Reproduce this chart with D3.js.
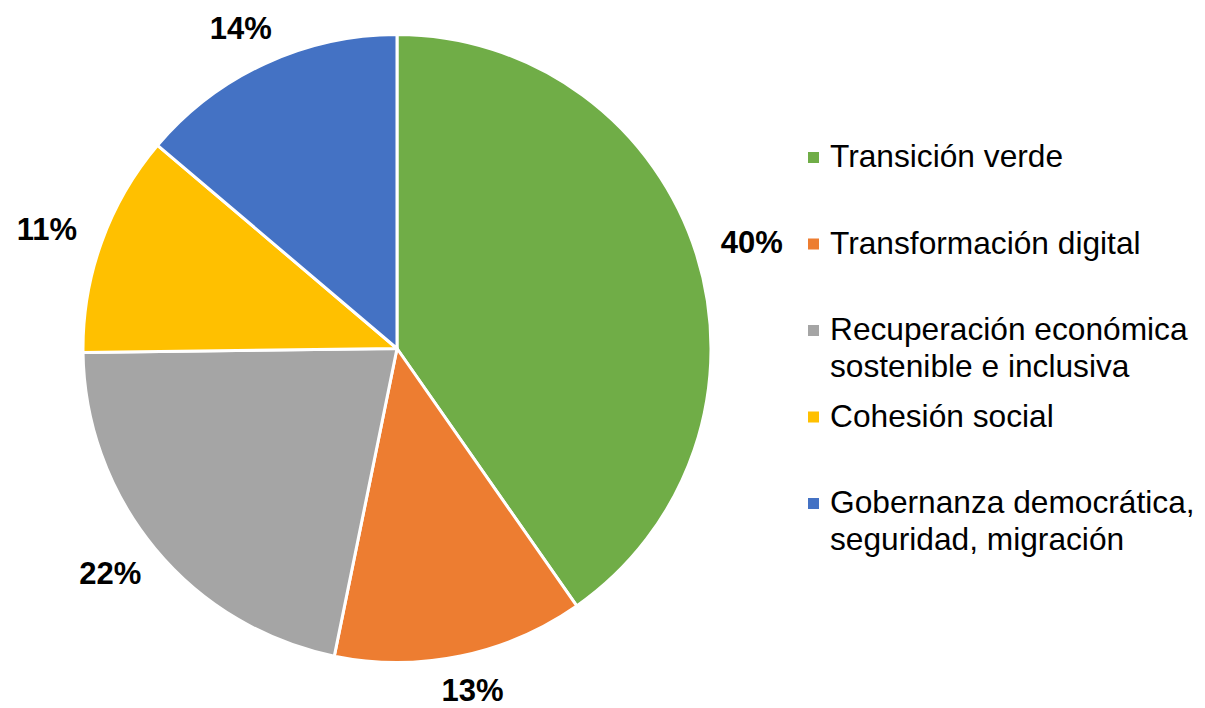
<!DOCTYPE html>
<html>
<head>
<meta charset="utf-8">
<script src="https://cdn.jsdelivr.net/npm/d3@7"></script>
<style>
  body { margin: 0; background: #fff; }
  svg { display: block; font-family: "Liberation Sans", Arial, sans-serif; }
</style>
</head>
<body>
<svg id="chart"></svg>
<script>
// Data
const categories = [
  ["Transición verde"],
  ["Transformación digital"],
  ["Recuperación económica", "sostenible e inclusiva"],
  ["Cohesión social"],
  ["Gobernanza democrática,", "seguridad, migración"]
];
const values = [40.3, 12.9, 21.6, 11.4, 13.8];
const labels = ["40%", "13%", "22%", "11%", "14%"];
const colors = ["#70AD47", "#ED7D31", "#A5A5A5", "#FFC000", "#4472C4"];

// Dimensions
const width = 1205;
const height = 708;
const cx = 397;
const cy = 348.5;
const radius = 314;

const svg = d3
  .select("#chart")
  .attr("width", width)
  .attr("height", height);

const dataset = values.map((v, i) => ({
  value: v,
  label: labels[i],
  name: categories[i],
  color: colors[i]
}));

const pie = d3.pie().sort(null).value((d) => d.value);
const arc = d3.arc().innerRadius(0).outerRadius(radius);

const g = svg.append("g").attr("transform", `translate(${cx}, ${cy})`);

// Slices
g.selectAll(".slice")
  .data(pie(dataset))
  .enter()
  .append("path")
  .attr("class", "slice")
  .attr("d", arc)
  .attr("fill", (d) => d.data.color)
  .attr("stroke", "#fff")
  .attr("stroke-width", 3)
  .attr("stroke-linejoin", "round");

// Data labels, outside end (kept inside the page at the bottom)
const gap = 28;
const boxW = 60;
const boxH = 22;
const maxY = height - cy - 18;
g.selectAll(".label")
  .data(pie(dataset))
  .enter()
  .append("text")
  .attr("class", "label")
  .attr("x", (d) => {
    const a = (d.startAngle + d.endAngle) / 2;
    return Math.sin(a) * (radius + gap) + Math.sin(a) * boxW / 2;
  })
  .attr("y", (d) => {
    const a = (d.startAngle + d.endAngle) / 2;
    const y = -Math.cos(a) * (radius + gap) - Math.cos(a) * boxH / 2;
    return Math.min(y, maxY);
  })
  .attr("dy", "0.35em")
  .attr("text-anchor", "middle")
  .style("font-size", "31px")
  .style("font-weight", "bold")
  .style("fill", "#000")
  .text((d) => d.data.label);

// Legend
const legend = svg.append("g").attr("transform", "translate(808, 167)");
const item = legend
  .selectAll(".item")
  .data(dataset)
  .enter()
  .append("g")
  .attr("class", "item")
  .attr("transform", (d, i) => `translate(0, ${i * 86.5})`);

item
  .append("rect")
  .attr("x", 0)
  .attr("y", -15)
  .attr("width", 11)
  .attr("height", 11)
  .attr("fill", (d) => d.color);

item
  .append("text")
  .attr("x", 22)
  .attr("y", 0)
  .style("font-size", "31.7px")
  .style("fill", "#000")
  .selectAll("tspan")
  .data((d) => d.name)
  .enter()
  .append("tspan")
  .attr("x", 22)
  .attr("y", (d, i) => i * 36.5)
  .text((d) => d);
</script>
</body>
</html>
